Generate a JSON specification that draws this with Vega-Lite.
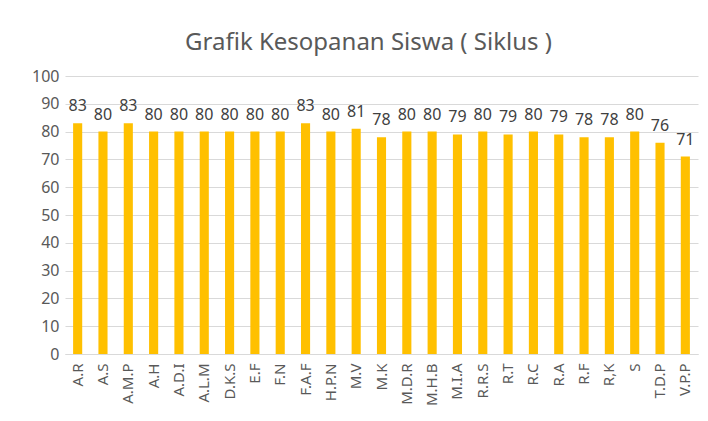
{
  "$schema": "https://vega.github.io/schema/vega-lite/v6.json",
  "width": 633,
  "height": 278,
  "autosize": {"type": "none"},
  "padding": {"left": 65, "top": 76, "right": 10, "bottom": 67},
  "background": "white",
  "title": {
    "text": "Grafik Kesopanan Siswa ( Siklus )",
    "fontSize": 24,
    "font": "Noto Sans",
    "fontWeight": "normal",
    "color": "#595959",
    "anchor": "middle",
    "dx": -13,
    "offset": 13
  },
  "data": {
    "values": [
      {"nama": "A.R", "nilai": 83},
      {"nama": "A.S", "nilai": 80},
      {"nama": "A.M.P", "nilai": 83},
      {"nama": "A.H", "nilai": 80},
      {"nama": "A.D.I", "nilai": 80},
      {"nama": "A.L.M", "nilai": 80},
      {"nama": "D.K.S", "nilai": 80},
      {"nama": "E.F", "nilai": 80},
      {"nama": "F.N", "nilai": 80},
      {"nama": "F.A.F", "nilai": 83},
      {"nama": "H.P.N", "nilai": 80},
      {"nama": "M.V", "nilai": 81},
      {"nama": "M.K", "nilai": 78},
      {"nama": "M.D.R", "nilai": 80},
      {"nama": "M.H.B", "nilai": 80},
      {"nama": "M.I.A", "nilai": 79},
      {"nama": "R.R.S", "nilai": 80},
      {"nama": "R.T", "nilai": 79},
      {"nama": "R.C", "nilai": 80},
      {"nama": "R.A", "nilai": 79},
      {"nama": "R.F", "nilai": 78},
      {"nama": "R,K", "nilai": 78},
      {"nama": "S", "nilai": 80},
      {"nama": "T.D.P", "nilai": 76},
      {"nama": "V.P.P", "nilai": 71}
    ]
  },
  "encoding": {
    "x": {
      "field": "nama",
      "type": "nominal",
      "sort": null,
      "scale": {"paddingInner": 0.64, "paddingOuter": 0.32},
      "axis": {
        "title": null,
        "labelAngle": -90,
        "labelFontSize": 15,
        "labelFont": "Noto Sans",
        "labelColor": "#595959",
        "ticks": false,
        "domainColor": "#d9d9d9",
        "labelPadding": 9
      }
    },
    "y": {
      "field": "nilai",
      "type": "quantitative",
      "scale": {"domain": [0, 100]},
      "axis": {
        "title": null,
        "values": [0, 10, 20, 30, 40, 50, 60, 70, 80, 90, 100],
        "domain": false,
        "ticks": false,
        "gridColor": "#d9d9d9",
        "labelFontSize": 16,
        "labelFont": "Noto Sans",
        "labelColor": "#595959",
        "labelPadding": 6
      }
    }
  },
  "layer": [
    {"mark": {"type": "bar", "color": "#FFC000"}},
    {
      "mark": {
        "type": "text",
        "baseline": "alphabetic",
        "dy": -12,
        "fontSize": 16,
        "font": "Noto Sans",
        "color": "#404040"
      },
      "encoding": {"text": {"field": "nilai", "type": "quantitative"}}
    }
  ],
  "config": {"view": {"stroke": null}}
}
